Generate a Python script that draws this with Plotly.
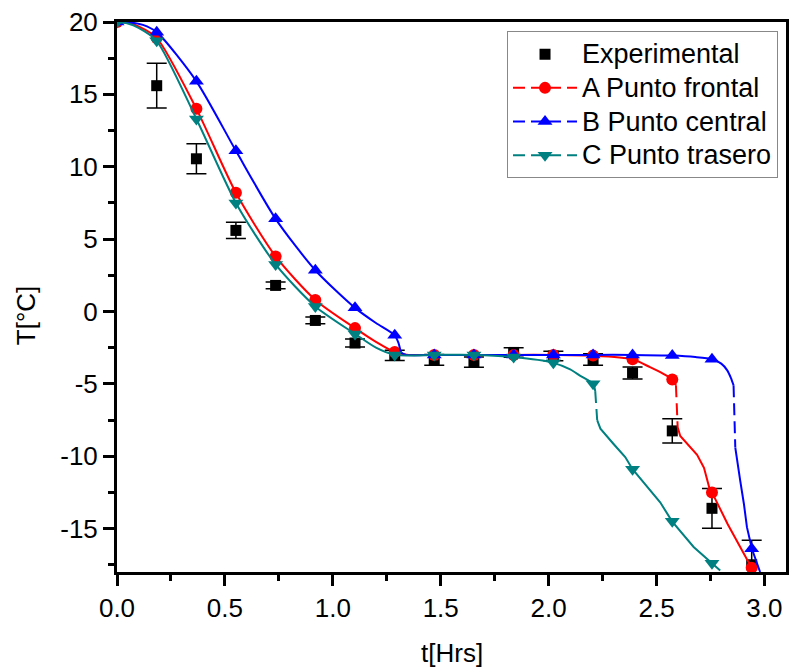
import plotly.graph_objects as go

# experimental readings (t in hours, T in degC, +/- error)
t_exp = [0.184, 0.368, 0.551, 0.735, 0.919, 1.103, 1.287, 1.470, 1.654, 1.838, 2.022, 2.206, 2.389, 2.573, 2.757, 2.941]
T_exp = [15.6, 10.55, 5.6, 1.8, -0.62, -2.18, -3.03, -3.35, -3.5, -2.83, -3.08, -3.32, -4.25, -8.25, -13.6, -17.5]
err_exp = [1.55, 1.03, 0.56, 0.23, 0.23, 0.27, 0.35, 0.37, 0.35, 0.33, 0.33, 0.4, 0.42, 0.83, 1.37, 1.7]

# model marker points
t_mod = [0, 0.184, 0.368, 0.551, 0.735, 0.919, 1.103, 1.287, 1.470, 1.654, 1.838, 2.022, 2.206, 2.389, 2.573, 2.757, 2.941]
A_mk = [20, 18.9, 14.0, 8.2, 3.8, 0.8, -1.15, -2.8, -3.0, -3.0, -3.0, -3.0, -3.05, -3.3, -4.7, -12.5, -17.7]
B_mk = [20, 19.3, 15.9, 11.1, 6.4, 2.85, 0.25, -1.65, -3.0, -3.0, -3.0, -3.0, -3.0, -3.0, -3.05, -3.3, -16.4]
C_mk = [20, 18.7, 13.3, 7.5, 3.25, 0.35, -1.55, -3.0, -3.0, -3.0, -3.15, -3.55, -5.0, -10.9, -14.5, -17.4]

# model curves: smooth part, dashed jump, lower part
A_x1 = [0, 0.05, 0.10, 0.184, 0.368, 0.551, 0.735, 0.919, 1.103, 1.20, 1.287, 1.35, 1.47, 1.654, 1.838, 2.022, 2.206, 2.389, 2.47, 2.53, 2.573, 2.590]
A_y1 = [20, 19.95, 19.7, 18.9, 14.0, 8.2, 3.8, 0.8, -1.15, -2.1, -2.8, -3.0, -3.0, -3.0, -3.0, -3.0, -3.05, -3.3, -3.85, -4.3, -4.7, -5.1]
A_xd = [2.590, 2.598]
A_yd = [-5.1, -8.0]
A_x2 = [2.598, 2.61, 2.688, 2.72, 2.745, 2.757, 2.83, 2.90, 2.942, 2.955]
A_y2 = [-8.0, -8.6, -9.9, -10.8, -12.2, -12.5, -14.7, -16.6, -17.7, -18.1]

B_x1 = [0, 0.06, 0.12, 0.184, 0.368, 0.551, 0.735, 0.919, 1.103, 1.20, 1.287, 1.305, 1.318, 1.34, 1.47, 1.654, 1.838,
        2.022, 2.206, 2.389, 2.573, 2.68, 2.757, 2.80, 2.827, 2.845, 2.857]
B_y1 = [20, 19.97, 19.8, 19.3, 15.9, 11.1, 6.4, 2.85, 0.25, -0.8, -1.65, -2.2, -2.85, -3.0, -3.0, -3.0, -3.0,
        -3.0, -3.0, -3.0, -3.05, -3.15, -3.3, -3.6, -4.05, -4.6, -5.1]
B_xd = [2.857, 2.865]
B_yd = [-5.1, -9.4]
B_x2 = [2.865, 2.875, 2.888, 2.905, 2.919, 2.942, 2.96, 2.98]
B_y2 = [-9.4, -10.5, -11.7, -13.3, -14.9, -16.4, -17.2, -18.0]

C_x1 = [0, 0.05, 0.10, 0.184, 0.368, 0.551, 0.735, 0.919, 1.103, 1.20, 1.287, 1.47, 1.654, 1.838, 2.022, 2.10, 2.147, 2.206, 2.216]
C_y1 = [20, 19.9, 19.6, 18.7, 13.3, 7.5, 3.25, 0.35, -1.55, -2.5, -3.0, -3.0, -3.0, -3.15, -3.55, -4.0, -4.45, -5.0, -5.5]
C_xd = [2.216, 2.225]
C_yd = [-5.5, -7.5]
C_x2 = [2.225, 2.24, 2.30, 2.355, 2.389, 2.45, 2.517, 2.572, 2.672, 2.757, 2.795]
C_y2 = [-7.5, -8.1, -9.14, -10.06, -10.9, -12.0, -13.18, -14.5, -16.27, -17.4, -17.9]

# tick labels (hyphen minus, as in the original figure)
y_ticks = [-15, -10, -5, 0, 5, 10, 15, 20]
y_labels = ["-15", "-10", "-5", "0", "5", "10", "15", "20"]

FONT = "Liberation Sans, Arial, sans-serif"
FS = 26
DASH = "12px,6px"


def big(s):
    # legend rows are spaced by the legend font size, text itself is drawn larger
    return "<span style='font-size:27px'>" + s + "</span>"


fig = go.Figure()

fig.add_trace(go.Scatter(
    x=t_exp, y=T_exp, mode="markers", name=big("Experimental"),
    marker=dict(symbol="square", size=11, color="black"),
    error_y=dict(type="data", array=err_exp, color="black", thickness=1.5, width=10),
    legendrank=1))

series = [
    ("A Punto frontal", "#FF0000", "circle", 12, A_mk, A_x1, A_y1, A_xd, A_yd, A_x2, A_y2),
    ("B Punto central", "#0000FF", "triangle-up", 13, B_mk, B_x1, B_y1, B_xd, B_yd, B_x2, B_y2),
    ("C Punto trasero", "#008080", "triangle-down", 13, C_mk, C_x1, C_y1, C_xd, C_yd, C_x2, C_y2),
]

for i, (name, col, sym, sz, mk, x1, y1, xd, yd, x2, y2) in enumerate(series):
    fig.add_trace(go.Scatter(x=x1, y=y1, mode="lines", line=dict(color=col, width=2, shape="spline", smoothing=0.7),
                             showlegend=False, hoverinfo="skip"))
    fig.add_trace(go.Scatter(x=xd, y=yd, mode="lines", line=dict(color=col, width=2, dash=DASH),
                             showlegend=False, hoverinfo="skip"))
    fig.add_trace(go.Scatter(x=x2, y=y2, mode="lines", line=dict(color=col, width=2),
                             showlegend=False, hoverinfo="skip"))
    fig.add_trace(go.Scatter(x=t_mod[:len(mk)], y=mk, mode="markers", marker=dict(symbol=sym, size=sz, color=col),
                             showlegend=False))
    # legend entry
    fig.add_trace(go.Scatter(x=[None], y=[None], mode="lines+markers", name=big(name),
                             line=dict(color=col, width=2, dash=DASH),
                             marker=dict(symbol=sym, size=sz, color=col), legendrank=i + 2))

axis_style = dict(showline=True, linewidth=3, linecolor="black", mirror=True, ticks="outside",
                  ticklen=11, tickwidth=3, tickcolor="black", showgrid=False, zeroline=False,
                  automargin=False, tickfont=dict(family=FONT, size=FS, color="black"))

fig.update_xaxes(range=[0, 3.1], tick0=0, dtick=0.5, tickformat=".1f",
                 minor=dict(ticks="outside", dtick=0.25, ticklen=6, tickwidth=3, tickcolor="black"),
                 **axis_style)
fig.update_yaxes(range=[-18, 20], tickvals=y_ticks, ticktext=y_labels,
                 minor=dict(ticks="outside", dtick=2.5, ticklen=6, tickwidth=3, tickcolor="black"),
                 **axis_style)

fig.add_annotation(text="T[°C]", xref="paper", yref="paper", x=-0.136, y=0.467, showarrow=False,
                   xanchor="center", yanchor="middle", textangle=-90,
                   font=dict(family=FONT, size=FS, color="black"))
fig.add_annotation(text="t[Hrs]", xref="paper", yref="paper", x=0.5, y=-0.147, showarrow=False,
                   xanchor="center", yanchor="middle", font=dict(family=FONT, size=FS, color="black"))

fig.update_layout(
    width=789, height=667,
    margin=dict(l=117, r=3, t=22, b=95),
    plot_bgcolor="white", paper_bgcolor="white",
    font=dict(family=FONT, size=FS, color="black"),
    legend=dict(x=0.583, y=0.983, xanchor="left", yanchor="top", bgcolor="white",
                bordercolor="#888888", borderwidth=1, font=dict(family=FONT, size=23.6, color="black"),
                itemwidth=64, tracegroupgap=0),
)

fig.write_html("out.html", config={"displayModeBar": False},
               post_script="document.body.style.margin='0';")
